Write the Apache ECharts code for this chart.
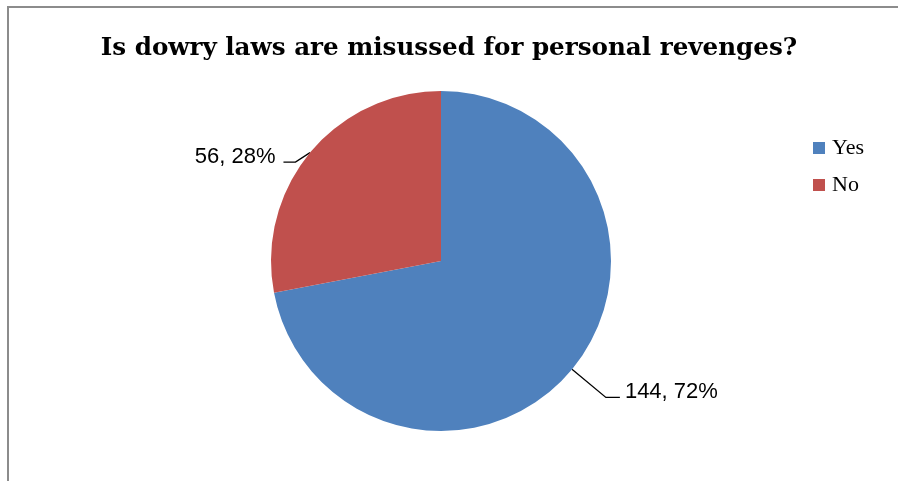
<!DOCTYPE html>
<html>
<head>
<meta charset="utf-8">
<script src="https://cdn.jsdelivr.net/npm/echarts@6/dist/echarts.min.js"></script>
<style>
  html, body { margin: 0; padding: 0; background: #fff; }
  #frame { position: absolute; left: 7px; top: 6px; width: 900px; height: 480px;
           border-top: 2px solid #8c8c8c; border-left: 2px solid #8c8c8c; }
  #chart { position: absolute; left: 0; top: 0; width: 898px; height: 481px; }
</style>
</head>
<body>
<div id="frame"></div>
<div id="chart"></div>
<script>
// Survey answers
const categories = ['Yes', 'No'];
const counts = [144, 56];
const percents = [72, 28];
const sliceColors = ['#4F81BD', '#C0504D'];

const leader = [
  { length: 44, length2: 14 },
  { length: 15, length2: 12 }
];

const data = categories.map((name, i) => ({
  name: name,
  value: counts[i],
  pct: percents[i],
  itemStyle: { color: sliceColors[i] },
  labelLine: leader[i]
}));

// Nudge a label; the leader's elbow and tail follow by the given shifts
function shiftLabel(p, dx, dy, lineDx, lineDy) {
  const pts = p.labelLinePoints;
  const out = { dx: dx, dy: dy };
  if (pts && (lineDx || lineDy)) {
    out.labelLinePoints = [
      pts[0].slice(),
      [pts[1][0] + lineDx, pts[1][1] + lineDy],
      [pts[2][0] + lineDx, pts[2][1] + lineDy]
    ];
  }
  return out;
}

const chart = echarts.init(document.getElementById('chart'), null, { renderer: 'canvas' });
chart.setOption({
  animation: false,
  backgroundColor: 'transparent',
  title: {
    text: 'Is dowry laws are misussed for personal revenges?',
    left: 'center',
    top: 31,
    textStyle: { fontFamily: 'DejaVu Serif', fontWeight: 'bold', fontSize: 24.6, color: '#000' }
  },
  legend: {
    orient: 'vertical',
    left: 808,
    top: 132,
    itemWidth: 12,
    itemHeight: 12,
    itemGap: 15,
    icon: 'rect',
    textStyle: { fontFamily: 'Liberation Serif', fontSize: 22, color: '#000', padding: [0, 0, 0, 2] },
    data: categories
  },
  series: [{
    type: 'pie',
    center: [441, 261],
    radius: 170,
    startAngle: 90,
    clockwise: true,
    data: data,
    label: {
      show: true,
      position: 'outside',
      fontFamily: 'Liberation Sans',
      fontSize: 22,
      color: '#000',
      formatter: p => p.value + ', ' + p.data.pct + '%'
    },
    labelLine: {
      show: true,
      smooth: false,
      lineStyle: { color: '#000', width: 1.3 }
    },
    labelLayout: p => (p.dataIndex === 1
      ? shiftLabel(p, -6, 14, -3, 19)
      : shiftLabel(p, 0, -5, 0, 0)),
    emphasis: { disabled: true }
  }]
});
</script>
</body>
</html>
